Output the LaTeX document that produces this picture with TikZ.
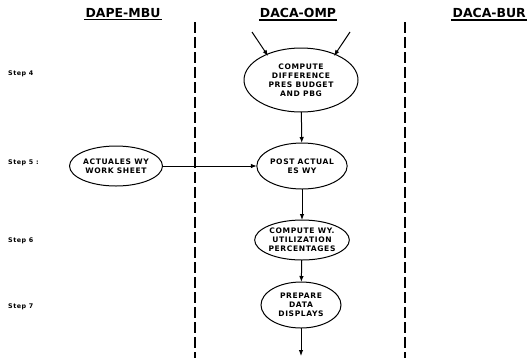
\documentclass[tikz,border=0pt]{standalone}
\usepackage{fontspec}
\setmainfont{DejaVu Sans}
\newfontfamily\taskfont[LetterSpace=8]{DejaVu Sans}
\usetikzlibrary{shapes.geometric,arrows.meta}

\tikzset{
  lane head/.style={font=\bfseries\fontsize{12.5}{14}\selectfont, inner sep=1bp},
  step label/.style={font=\taskfont\bfseries\fontsize{6.4}{7}\selectfont, anchor=west, inner sep=0pt},
  task/.style={ellipse, draw, line width=1bp, inner sep=0pt, outer sep=0pt, align=center,
    font=\taskfont\bfseries\fontsize{7.6}{9.2}\selectfont},
  lane rule/.style={line width=1.2bp, dash pattern=on 11bp off 4bp},
  flow/.style={line width=1bp, -{Latex[length=6bp,width=4.5bp]}},
}

\begin{document}
\begin{tikzpicture}[x=1bp, y=-1bp]
  \useasboundingbox (0,0) rectangle (527,358);

  % column headings
  \node[lane head] (hmbu) at (123,13) {DAPE-MBU};
  \node[lane head] (homp) at (298,13) {DACA-OMP};
  \node[lane head, anchor=east] (hbur) at (527,13) {DACA-BUR};
  \foreach \h in {hmbu,homp,hbur}
    \draw[line width=1.2bp] ([yshift=-1bp]\h.south west) -- ([yshift=-1bp]\h.south east);

  % swim-lane separators
  \coordinate (l1t) at (195,22);
  \coordinate (l1b) at (195,358);
  \coordinate (l2t) at (405,22);
  \coordinate (l2b) at (405,358);
  \draw[lane rule] (l1t) -- (l1b);
  \draw[lane rule] (l2t) -- (l2b);

  % step labels
  \node[step label] (s4) at (8,74)  {Step 4};
  \node[step label] (s5) at (8,163) {Step 5 :};
  \node[step label] (s6) at (8,241) {Step 6};
  \node[step label] (s7) at (8,307) {Step 7};

  % processes
  \node[task, minimum width=114bp, minimum height=64bp] (diff) at (301,80)
    {COMPUTE\\DIFFERENCE\\PRES BUDGET\\AND PBG};
  \node[task, minimum width=92bp, minimum height=40bp] (ws) at (116,166)
    {ACTUALES WY\\WORK SHEET};
  \node[task, minimum width=88bp, minimum height=46bp] (post) at (302,166)
    {POST ACTUAL\\ES WY};
  \node[task, minimum width=84bp, minimum height=40bp] (util) at (302,240)
    {COMPUTE WY.\\UTILIZATION\\PERCENTAGES};
  \node[task, minimum width=80bp, minimum height=46bp] (disp) at (301,305)
    {PREPARE\\DATA\\DISPLAYS};

  % inputs and output
  \coordinate (inl) at (252,32);
  \coordinate (inr) at (350,32);
  \coordinate (out) at (301,356);

  % flows
  \draw[flow, shorten >=-2bp] (inl) -- (diff.143);
  \draw[flow, shorten >=-2bp] (inr) -- (diff.37);
  \draw[flow] (diff) -- (post);
  \draw[flow] (ws.east) -- (post.west);
  \draw[flow] (post) -- (util);
  \draw[flow] (util) -- (disp);
  \draw[flow] (disp) -- (out);
\end{tikzpicture}
\end{document}
